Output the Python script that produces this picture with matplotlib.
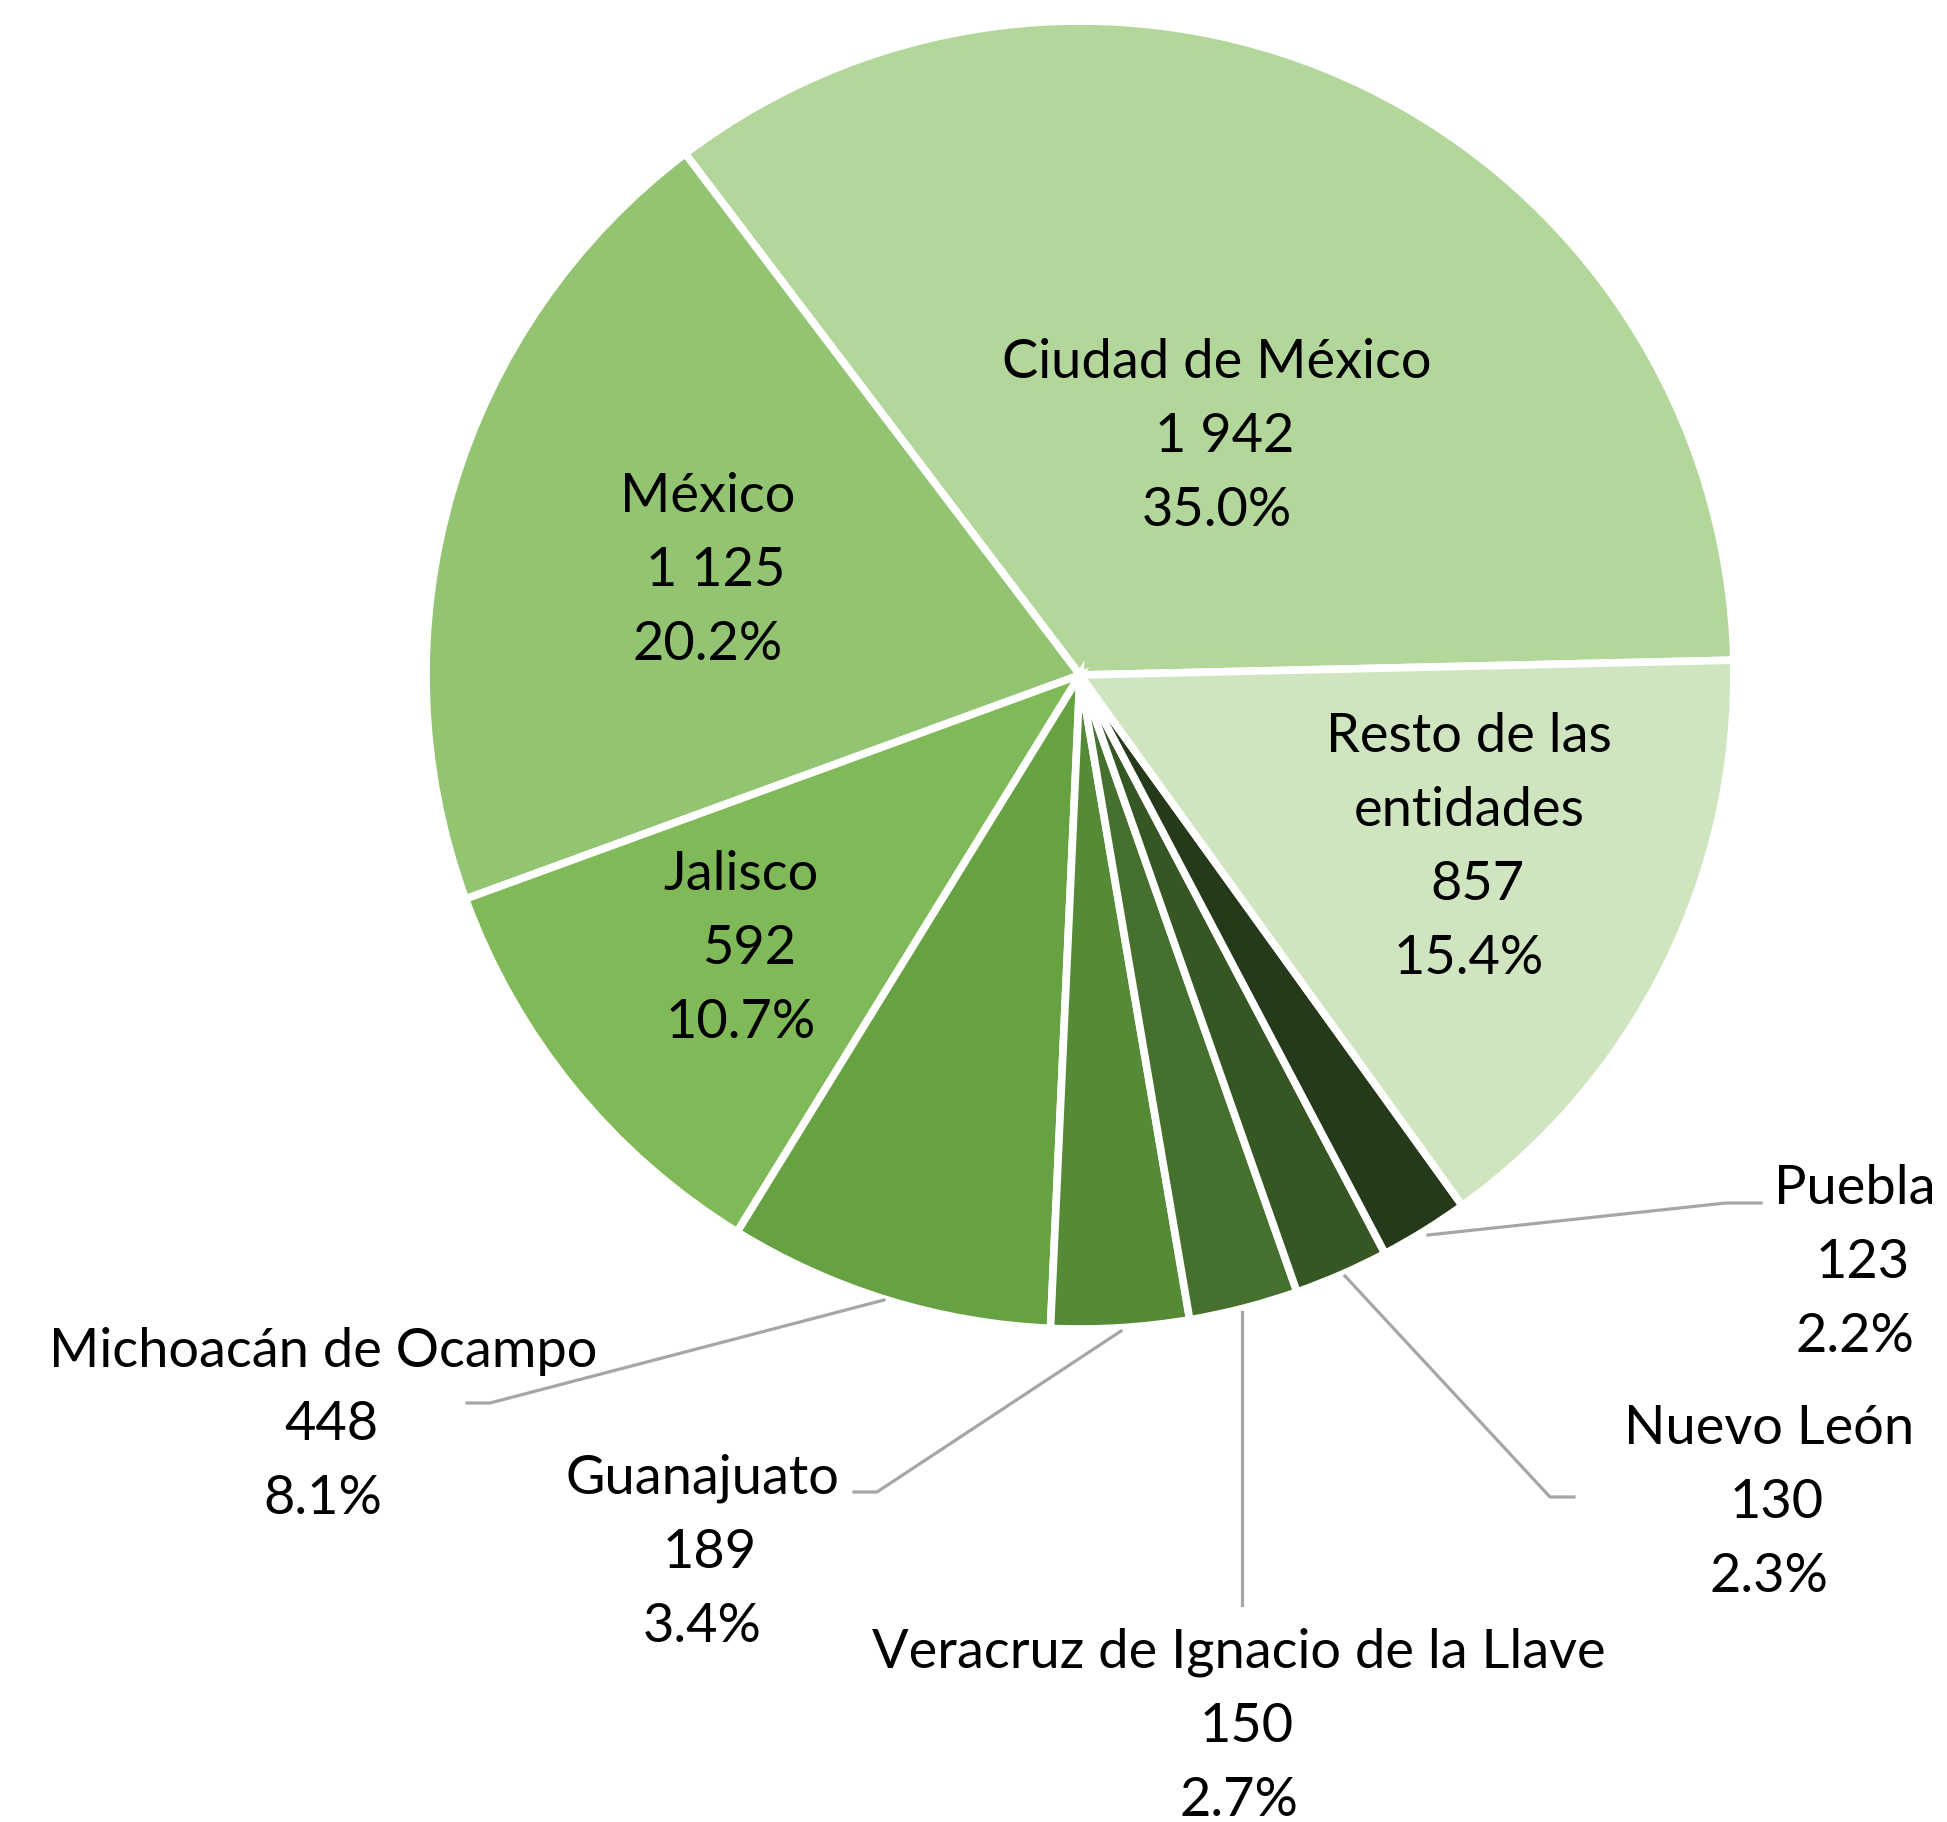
import matplotlib.pyplot as plt

entidades = ['Ciudad de México', 'México', 'Jalisco', 'Michoacán de Ocampo', 'Guanajuato',
             'Veracruz de Ignacio de la Llave', 'Nuevo León', 'Puebla', 'Resto de las\nentidades']
valores = [1942, 1125, 592, 448, 189, 150, 130, 123, 857]
porcentajes = ['35.0%', '20.2%', '10.7%', '8.1%', '3.4%', '2.7%', '2.3%', '2.2%', '15.4%']
colores = ['#b3d69b', '#92c472', '#80b957', '#66a142', '#558a37', '#46702e', '#365624', '#253a1a', '#cfe5c0']

W, H = 1947, 1822
fig = plt.figure(figsize=(W / 100, H / 100), dpi=100)
ax = fig.add_axes([0, 0, 1, 1])

cx, cy, r = 1080, H - 675, 654
ax.pie(valores, colors=colores, startangle=1.3, counterclock=True, center=(cx, cy), radius=r,
       wedgeprops=dict(edgecolor='white', linewidth=5.5))
ax.set_xlim(0, W)
ax.set_ylim(0, H)
ax.set_aspect('equal')
ax.axis('off')

# posiciones de etiquetas (pixeles, centro de la linea del valor)
pos = [(1217, 437), (708, 571), (741, 949), (323, 1425), (702, 1552),
       (1239, 1726), (1769, 1502), (1855, 1263), (1469, 885)]
paso = 74

def fmt(v):
    return f"{v:,}".replace(',', ' ')

for nombre, v, p, (x, y) in zip(entidades, valores, porcentajes, pos):
    lineas = nombre.split('\n') + [fmt(v), p]
    n = len(lineas)
    # la linea del valor es la penultima
    y0 = y - (n - 2) * paso
    for i, t in enumerate(lineas):
        dx = 8 if i == n - 2 else 0  # el valor va un poco a la derecha
        ax.text(x + dx, H - (y0 + i * paso), t, ha='center', va='center',
                fontsize=39, family='Lato', color='black')

# lineas guia
guias = [
    [(1428, 1235), (1726, 1203), (1761, 1203)],
    [(1345, 1276), (1550, 1497), (1574, 1497)],
    [(1242, 1312), (1242, 1605)],
    [(1121, 1331), (877, 1492), (854, 1492)],
    [(884, 1300), (490, 1403), (467, 1403)],
]
for g in guias:
    xs = [a for a, b in g]
    ys = [H - b for a, b in g]
    ax.plot(xs, ys, color='#a6a6a6', linewidth=2.3)

fig.savefig('out.png', dpi=100)
